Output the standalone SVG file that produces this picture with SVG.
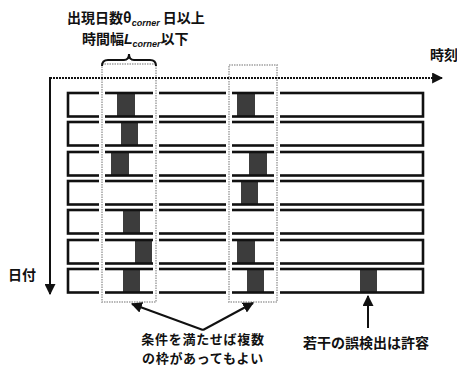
<svg xmlns="http://www.w3.org/2000/svg" width="457" height="366" viewBox="0 0 457 366">
<defs>
<style>
.row{fill:none;stroke:#111;stroke-width:2.6}
.blk{fill:#3c3c3c}
.gapw{fill:none;stroke:#fff;stroke-width:6}
.frm{fill:none;stroke:#b8b8b8;stroke-width:2;stroke-dasharray:1.5 1}
.t{font-family:"Noto Sans CJK JP","Noto Sans",sans-serif;font-weight:bold;font-size:14px;fill:#111}
.t2{font-family:"Noto Sans CJK JP","Noto Sans",sans-serif;font-weight:bold;font-size:13px;fill:#111;text-anchor:middle;letter-spacing:0.7px}
.sub{font-family:"Liberation Sans",sans-serif;font-style:italic;font-weight:bold;font-size:9px;fill:#111}
.it{font-family:"Liberation Sans",sans-serif;font-style:italic;font-weight:bold;font-size:14px;fill:#111}
.ln{fill:none;stroke:#111;stroke-width:2}
</style>
<marker id="ah" viewBox="0 0 10 10" refX="9" refY="5" markerWidth="5.5" markerHeight="5.5" orient="auto" markerUnits="strokeWidth">
<path d="M0,0 L10,5 L0,10 z" fill="#111"/>
</marker>
</defs>
<rect width="457" height="366" fill="#fff"/>
<g id="rows">
<g id="row1"><rect class="blk" x="117" y="93" width="18" height="23.5"/><rect class="blk" x="237" y="93" width="18" height="23.5"/><rect class="row" x="68" y="93" width="355" height="23.5"/></g>
<g id="row2"><rect class="blk" x="121" y="122" width="17" height="23.5"/><rect class="row" x="68" y="122" width="355" height="23.5"/></g>
<g id="row3"><rect class="blk" x="111" y="152" width="18" height="23.5"/><rect class="blk" x="249" y="152" width="18" height="23.5"/><rect class="row" x="68" y="152" width="355" height="23.5"/></g>
<g id="row4"><rect class="blk" x="241" y="181" width="17" height="23.5"/><rect class="row" x="68" y="181" width="355" height="23.5"/></g>
<g id="row5"><rect class="blk" x="123" y="210" width="17" height="23.5"/><rect class="row" x="68" y="210" width="355" height="23.5"/></g>
<g id="row6"><rect class="blk" x="135" y="240" width="17" height="23.5"/><rect class="blk" x="237" y="240" width="18" height="23.5"/><rect class="row" x="68" y="240" width="355" height="23.5"/></g>
<g id="row7"><rect class="blk" x="123" y="269" width="17" height="23.5"/><rect class="blk" x="247" y="269" width="17" height="23.5"/><rect class="blk" x="360" y="269" width="17" height="23.5"/><rect class="row" x="68" y="269" width="355" height="23.5"/></g>
</g>
<g id="frame1"><rect class="gapw" x="102" y="64" width="54" height="238"/><rect class="frm" x="102" y="64" width="54" height="238"/></g>
<g id="frame2"><rect class="gapw" x="229" y="65" width="48" height="237"/><rect class="frm" x="229" y="65" width="48" height="237"/></g>
<g id="connectors">
<line class="ln" x1="50" y1="78" x2="442" y2="78" stroke-dasharray="2 1" marker-end="url(#ah)"/>
<line class="ln" x1="50" y1="77" x2="50" y2="294" marker-end="url(#ah)"/>
<path class="ln" d="M102,66 Q102,60 108,60 L124,60 Q129,60 129,54 Q129,60 134,60 L150,60 Q156,60 156,66"/>
<line class="ln" x1="203" y1="330" x2="132" y2="304" marker-end="url(#ah)"/>
<line class="ln" x1="203" y1="330" x2="253" y2="303" marker-end="url(#ah)"/>
<line class="ln" x1="368" y1="328" x2="368" y2="296" marker-end="url(#ah)"/>
</g>
<g id="label-top">
<text class="t" x="67" y="23">出現日数θ<tspan class="sub" dy="3">corner</tspan><tspan dy="-3"> 日以上</tspan></text>
<text class="t" x="82" y="44">時間幅<tspan class="it">L</tspan><tspan class="sub" dy="3">corner</tspan><tspan dy="-3">以下</tspan></text>
</g>
<g id="label-time"><text class="t" x="430" y="60">時刻</text></g>
<g id="label-date"><text class="t" x="8" y="280">日付</text></g>
<g id="label-multi">
<text class="t2" x="203" y="344">条件を満たせば複数</text>
<text class="t2" x="203" y="362.5">の枠があってもよい</text>
</g>
<g id="label-err"><text class="t" x="303" y="348">若干の誤検出は許容</text></g>
</svg>
